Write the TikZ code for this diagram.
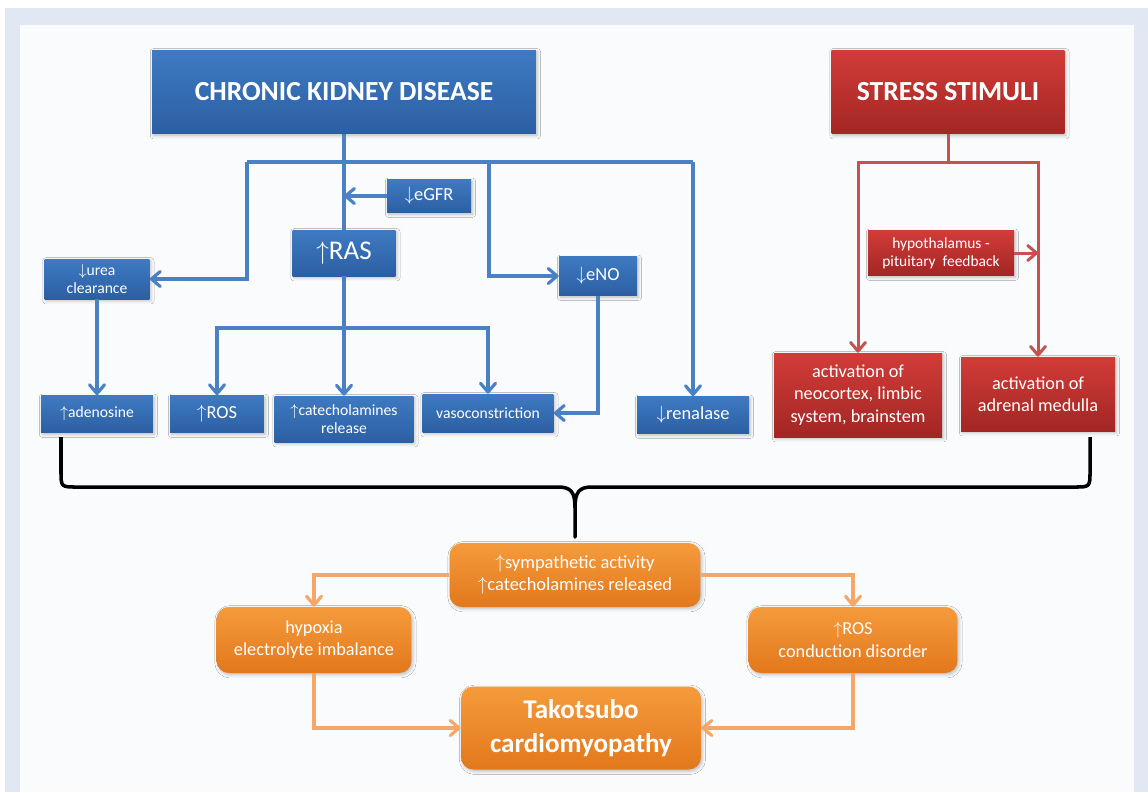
\documentclass[tikz,border=0pt]{standalone}
\usepackage{fontspec}
\setmainfont{Carlito}
\usepackage{tikz}
\usetikzlibrary{positioning}
\usetikzlibrary{arrows.meta}
\usetikzlibrary{shadows.blur}
\definecolor{framebg}{RGB}{225,232,244}
\definecolor{panelbg}{RGB}{250,251,253}
\definecolor{boxblue}{RGB}{62,122,194}
\definecolor{boxbluedark}{RGB}{44,95,162}
\definecolor{lineblue}{RGB}{74,128,196}
\definecolor{boxred}{RGB}{210,60,56}
\definecolor{boxreddark}{RGB}{162,38,36}
\definecolor{linered}{RGB}{196,82,78}
\definecolor{boxorange}{RGB}{245,155,60}
\definecolor{boxorangedark}{RGB}{226,120,28}
\definecolor{lineorange}{RGB}{244,167,104}
\tikzset{
box/.style={rectangle, text=white, align=center, inner sep=0pt, blur shadow={shadow xshift=0.8pt, shadow yshift=-1pt, shadow blur radius=1.8pt, shadow opacity=25}},
blue_box/.style={box, top color=boxblue, bottom color=boxbluedark},
red_box/.style={box, top color=boxred, bottom color=boxreddark},
orange_box/.style={box, rounded corners=7pt, top color=boxorange, bottom color=boxorangedark},
title_font/.style={font=\fontsize{15.7}{19}\selectfont\bfseries},
small_font/.style={font=\fontsize{8.9}{10}\selectfont},
mid_font/.style={font=\fontsize{10.5}{12.8}\selectfont},
blue_line/.style={draw=lineblue, line width=1.8pt},
red_line/.style={draw=linered, line width=1.7pt},
orange_line/.style={draw=lineorange, line width=1.8pt},
tip/.style={-{Straight Barb[length=5pt,width=8.5pt,round]}},
brace_line/.style={draw=black, line width=2pt, line join=round}
}

\begin{document}
\begin{tikzpicture}[x=0.02cm, y=-0.02cm]
    % frame
    \useasboundingbox (0,0) rectangle (1148,792);
    \fill[white] (0,0) rectangle (1148,792);
    \fill[framebg] (5,8) rectangle (1148,792);
    \fill[panelbg] (20,25) rectangle (1134,792);

    % kidney side
    \node[blue_box, title_font, minimum width=7.68cm, minimum height=1.68cm] (ckd) at (344,92) {CHRONIC KIDNEY DISEASE};
    \node[blue_box, mid_font, minimum width=1.68cm, minimum height=0.66cm] (egfr) at (429,196) {$\downarrow$eGFR};
    \node[blue_box, font=\fontsize{15.4}{18}\selectfont, minimum width=2.06cm, minimum height=0.92cm] (ras) at (344,253) {$\uparrow$RAS};
    \node[blue_box, small_font, minimum width=2.1cm, minimum height=0.8cm] (urea) at (97,279) {$\downarrow$urea\\clearance};
    \node[blue_box, mid_font, minimum width=1.56cm, minimum height=0.78cm] (eno) at (598,276) {$\downarrow$eNO};
    \node[blue_box, small_font, minimum width=2.24cm, minimum height=0.74cm] (adenosine) at (97,414) {$\uparrow$adenosine};
    \node[blue_box, mid_font, minimum width=1.88cm, minimum height=0.74cm] (ros) at (217,414) {$\uparrow$ROS};
    \node[blue_box, small_font, minimum width=2.78cm, minimum height=0.92cm] (catechol) at (344,419) {$\uparrow$catecholamines\\release};
    \node[blue_box, small_font, minimum width=2.62cm, minimum height=0.76cm] (vaso) at (488,413) {vasoconstriction};
    \node[blue_box, mid_font, minimum width=2.24cm, minimum height=0.74cm] (renalase) at (693,415) {$\downarrow$renalase};

    \coordinate (ckd_left) at (247,162);
    \coordinate (eno_split) at (489,162);
    \coordinate (ckd_right) at (693,162);
    \coordinate (ras_split) at (344,328);

    \draw[blue_line] (ckd.south) -- (ras.north);
    \draw[blue_line] (ckd_left) -- (ckd_right);
    \draw[blue_line, tip] (egfr.west) -- (egfr.west -| ras.north);
    \draw[blue_line, tip] (ckd_left) |- (urea.east);
    \draw[blue_line, tip] (eno_split) |- (eno.west);
    \draw[blue_line, tip] (ckd_right) -- (renalase.north);
    \draw[blue_line, tip] (ras.south) -- (catechol.north);
    \draw[blue_line, tip] (ras_split) -| (ros.north);
    \draw[blue_line, tip] (ras_split) -| (vaso.north);
    \draw[blue_line, tip] (urea.south) -- (adenosine.north);
    \draw[blue_line, tip] (eno.south) |- (vaso.east);

    % stress side
    \node[red_box, title_font, minimum width=4.66cm, minimum height=1.68cm] (stress) at (948,92) {STRESS STIMULI};
    \node[red_box, font=\fontsize{8.8}{10.2}\selectfont, minimum width=2.92cm, minimum height=0.9cm] (hypothalamus) at (941,253) {hypothalamus -\\pituitary\ \ feedback};
    \node[red_box, font=\fontsize{10.4}{12.8}\selectfont, minimum width=3.36cm, minimum height=1.68cm] (neocortex) at (858,395) {activation of\\neocortex, limbic\\system, brainstem};
    \node[red_box, font=\fontsize{10.4}{12.6}\selectfont, minimum width=3.08cm, minimum height=1.48cm] (adrenal) at (1038,394) {activation of\\adrenal medulla};

    \coordinate (stress_split) at (948,162);
    \draw[red_line] (stress.south) -- (stress_split);
    \draw[red_line, tip] (stress_split) -| (neocortex.north);
    \draw[red_line, tip] (stress_split) -| (adrenal.north);
    \draw[red_line, tip] (hypothalamus.east) -- (hypothalamus.east -| adrenal.north);

    % brace
    \coordinate (brace_left) at (61,437);
    \coordinate (brace_right) at (1090,437);
    \draw[brace_line] (brace_left) -- (61,471) .. controls (61,487) .. (77,487) -- (558,487)
        .. controls (571,487) and (575,492) .. (575,508) -- (575,537) -- (575,508)
        .. controls (575,492) and (579,487) .. (592,487) -- (1074,487) .. controls (1090,487) .. (1090,471) -- (brace_right);

    % heart
    \node[orange_box, font=\fontsize{10.5}{12.6}\selectfont, minimum width=5.02cm, minimum height=1.28cm] (sympathetic) at (575,575) {$\uparrow$sympathetic activity\\$\uparrow$catecholamines released};
    \node[orange_box, font=\fontsize{10.4}{12.6}\selectfont, minimum width=3.9cm, minimum height=1.32cm] (hypoxia) at (314,640) {hypoxia\\electrolyte imbalance};
    \node[orange_box, font=\fontsize{10.4}{12.6}\selectfont, minimum width=4.18cm, minimum height=1.32cm] (ros_cond) at (853,640) {$\uparrow$ROS\\conduction disorder};
    \node[orange_box, font=\fontsize{15.4}{19.3}\selectfont\bfseries, minimum width=4.8cm, minimum height=1.66cm] (takotsubo) at (581,728) {Takotsubo\\cardiomyopathy};

    \draw[orange_line, tip] (sympathetic.west) -| (hypoxia.north);
    \draw[orange_line, tip] (sympathetic.east) -| (ros_cond.north);
    \draw[orange_line, tip] (hypoxia.south) |- (takotsubo.west);
    \draw[orange_line, tip] (ros_cond.south) |- (takotsubo.east);
\end{tikzpicture}
\end{document}
